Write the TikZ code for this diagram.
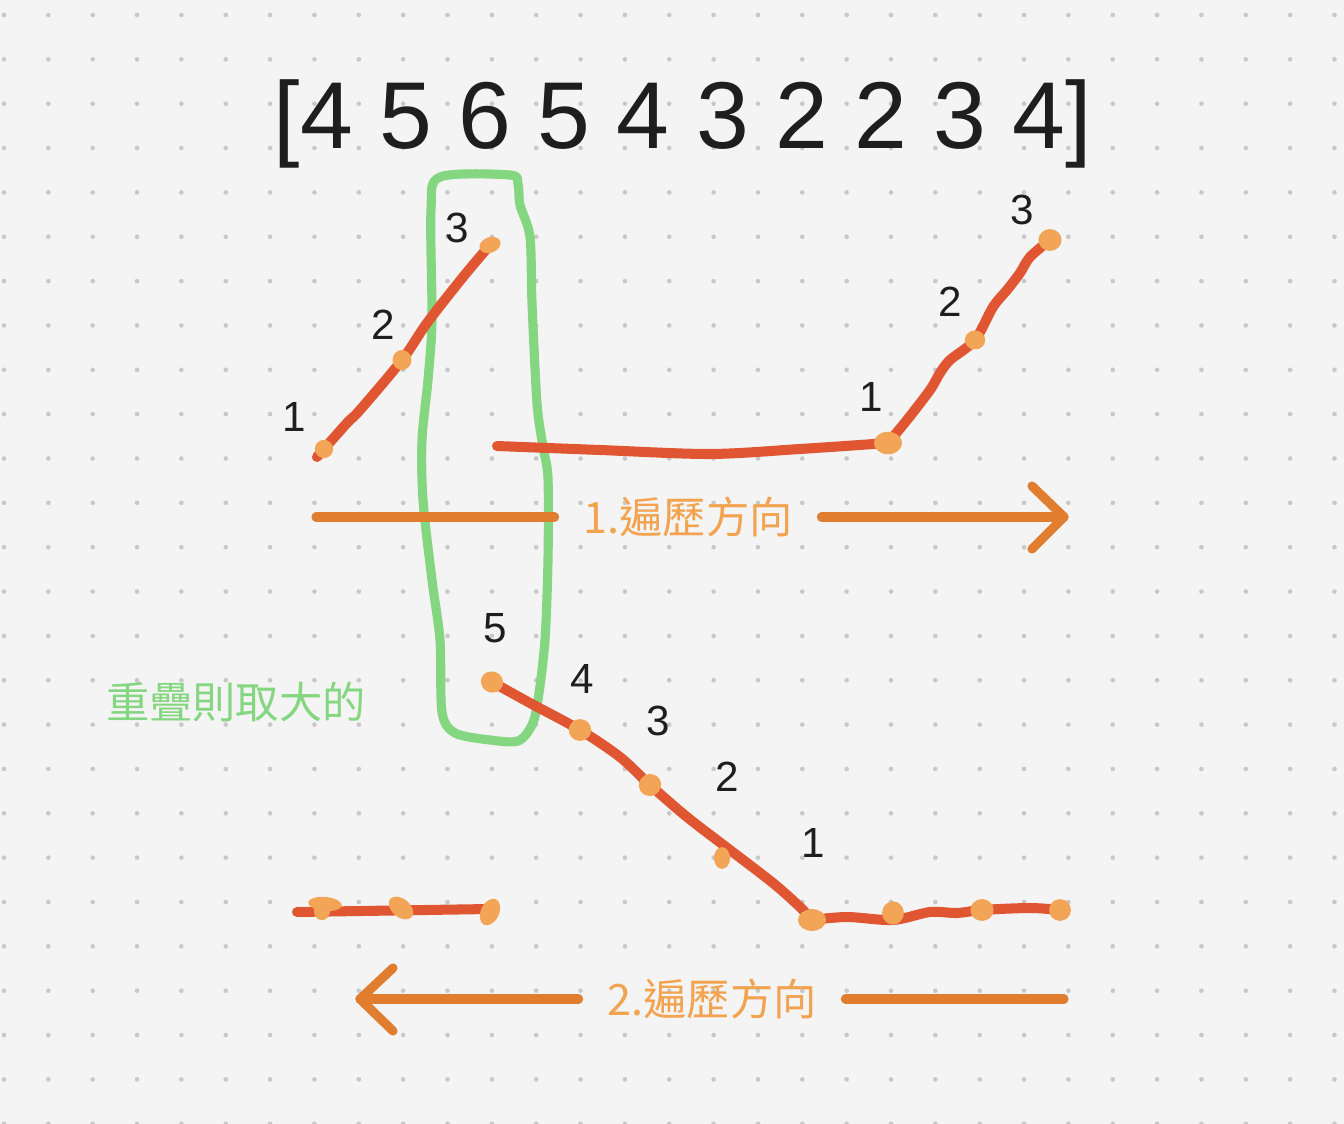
\documentclass[tikz,border=0pt]{standalone}
\usepackage{fontspec}
\setmainfont{Liberation Sans}
\newfontfamily\cjk{Noto Sans CJK TC}
\usepackage{xcolor}
\usepackage{tikz}

\definecolor{paper}{HTML}{F4F4F4}
\definecolor{griddot}{HTML}{C8C8C8}
\definecolor{inkred}{HTML}{E05633}
\definecolor{blob}{HTML}{F2A457}
\definecolor{arrowor}{HTML}{E07D2E}
\definecolor{labelor}{HTML}{F2A350}
\definecolor{loopgreen}{HTML}{85D680}
\definecolor{digitink}{HTML}{1E1E1E}

\newcommand{\steplab}[4]{\node[numlab] (#1) at (#2,#3) {#4};}

\begin{document}
\begin{tikzpicture}[x=0.01cm,y=-0.01cm,
  numlab/.style={text=digitink,font=\fontsize{12}{14}\selectfont,inner sep=0pt},
  cjklab/.style={font=\cjk\fontsize{12.3}{14}\selectfont,inner ysep=0pt,inner xsep=8pt},
  redline/.style={inkred,line width=2.85pt,line cap=round,line join=round},
  dirline/.style={arrowor,line width=2.6pt,line cap=round,line join=round},
  loopline/.style={loopgreen,line width=2.6pt,line join=round}]

\fill[paper] (0,0) rectangle (1344,1124);
\useasboundingbox (0,0) rectangle (1344,1124);
\foreach \i in {0,...,30}
  \foreach \j in {0,...,25}
    { \fill[griddot] (4+44.35*\i,15+44.35*\j) circle (0.66pt); }

% the array
\node[text=digitink,font=\fontsize{27}{30}\selectfont,anchor=base,inner sep=0pt]
  (arr) at (683,149) {[4 5 6 5 4 3 2 2 3 4]};

% points on the strokes
\coordinate (u1) at (324,449);
\coordinate (u2) at (402,360);
\coordinate (u3) at (490,245);
\coordinate (m1) at (888,443);
\coordinate (m2) at (975,340);
\coordinate (m3) at (1050,240);
\coordinate (l5) at (492,682);
\coordinate (l4) at (580,730);
\coordinate (l3) at (650,785);
\coordinate (l2) at (722,858);
\coordinate (l1) at (812,920);
\coordinate (r1) at (893,913);
\coordinate (r2) at (982,910);
\coordinate (r3) at (1060,910);
\coordinate (b1a) at (325,904);
\coordinate (b1b) at (322,911);
\coordinate (b2) at (401,908);
\coordinate (b3) at (490,912);

% overlap loop
\draw[loopline] plot[smooth cycle,tension=0.5] coordinates {
  (440,177) (510,175) (518,184) (520,205) (530,237) (532,303) (537,403)
  (543,447) (548,478) (548,560) (545,640) (538,700) (532,725) (518,741)
  (490,740) (455,733) (442,712) (440,640) (432,580) (423,500) (422,440)
  (428,380) (432,320) (431,210)};

% strokes
\draw[redline] plot[smooth,tension=0.5] coordinates {
  (317,457) (u1) (347,423) (360,410) (u2) (427,323) (463,277) (u3)};
\draw[redline] plot[smooth,tension=0.5] coordinates {
  (497,446) (600,450) (710,454) (800,449) (m1)};
\draw[redline] plot[smooth,tension=0.5] coordinates {
  (m1) (907,420) (930,390) (940,373) (950,360) (m2) (993,307) (1007,290)
  (1020,273) (1030,257) (m3)};
\draw[redline] plot[smooth,tension=0.5] coordinates {
  (l5) (530,703) (l4) (620,757) (l3) (687,817) (730,850) (773,883) (800,907) (l1)};
\draw[redline] plot[smooth,tension=0.5] coordinates {
  (l1) (847,917) (893,920) (930,912) (957,913) (r2) (1030,908) (r3)};
\draw[redline] (297,912) -- (490,909);

% blobs
\foreach \p/\a/\b/\r in {u1/2.6/2.6/0, u2/2.7/2.85/0, u3/3.1/2.2/20,
    m1/4/3.2/0, m2/2.9/2.7/0, m3/3.3/3.1/0,
    l5/3.2/3/-20, l4/3.2/3.1/0, l3/3.2/3.1/30, l2/2.3/3.1/0, l1/4/3.1/0,
    r1/3.1/3.3/0, r2/3.3/3.1/0, r3/3.1/3.1/0,
    b1a/4.8/2/-5, b1b/2.3/2.6/0, b2/4/2.6/-40, b3/4/2.6/65}
  { \fill[blob,rotate=\r] (\p) ellipse (\a pt and \b pt); }

% step numbers
\steplab{up1}{294}{417}{1}
\steplab{up2}{383}{325}{2}
\steplab{up3}{457}{228}{3}
\steplab{rt1}{871}{397}{1}
\steplab{rt2}{950}{302}{2}
\steplab{rt3}{1022}{210}{3}
\steplab{dn5}{495}{628}{5}
\steplab{dn4}{582}{679}{4}
\steplab{dn3}{658}{721}{3}
\steplab{dn2}{727}{777}{2}
\steplab{dn1}{813}{843}{1}

% directions
\coordinate (a1s) at (316,517);
\coordinate (a1e) at (1064,517);
\coordinate (c1u) at (1032,486);
\coordinate (c1d) at (1032,549);
\node[cjklab,text=labelor] (t1) at (688,517) {1.遍歷方向};
\draw[dirline] (a1s) -- (t1);
\draw[dirline] (t1) -- (a1e);
\draw[dirline] (c1u) -- (a1e) -- (c1d);

\coordinate (a2s) at (1064,999);
\coordinate (a2e) at (360,999);
\coordinate (c2u) at (393,968);
\coordinate (c2d) at (393,1031);
\node[cjklab,text=labelor] (t2) at (712,999) {2.遍歷方向};
\draw[dirline] (a2s) -- (t2);
\draw[dirline] (t2) -- (a2e);
\draw[dirline] (c2u) -- (a2e) -- (c2d);

\node[cjklab,text=loopgreen] (keep) at (236,702) {重疊則取大的};
\end{tikzpicture}
\end{document}
